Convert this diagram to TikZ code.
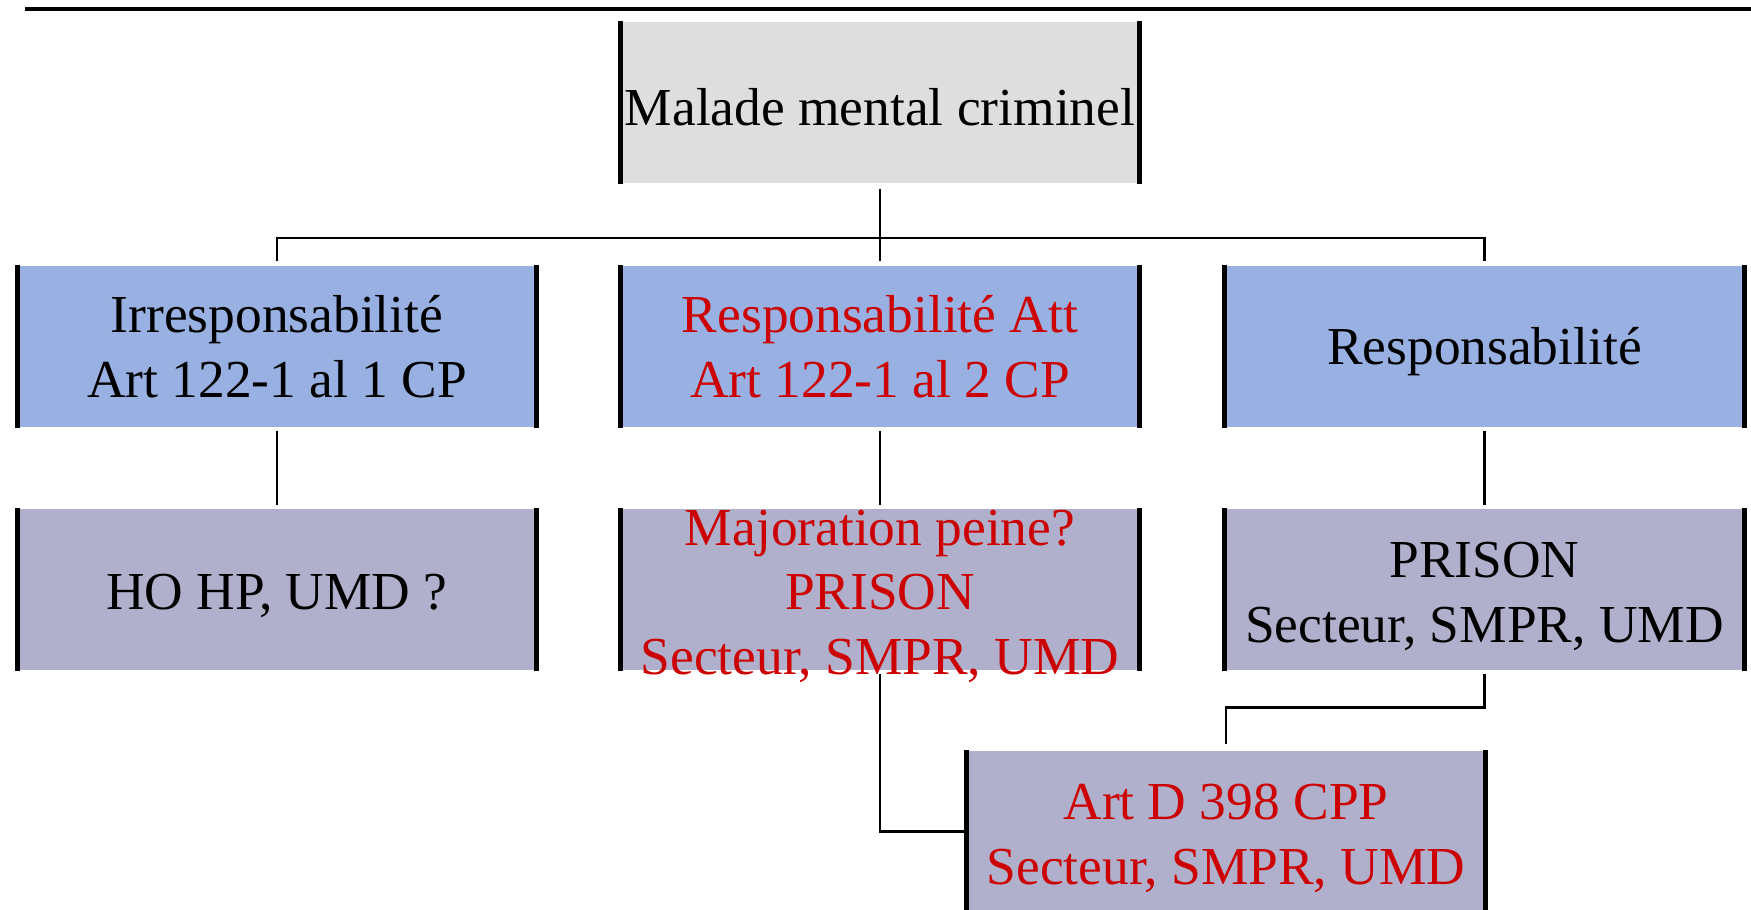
\documentclass[tikz,border=0pt]{standalone}
\usepackage{fontspec}
\setmainfont{Liberation Serif}

\definecolor{topgray}{HTML}{DEDEDE}
\definecolor{rowblue}{HTML}{98B0E2}
\definecolor{rowmauve}{HTML}{B0B0CC}
\definecolor{txtred}{HTML}{CC0000}
\newcommand{\upstrut}{\rule{0pt}{14pt}}

\begin{document}
\begin{tikzpicture}
    \useasboundingbox (0,0) rectangle (17.51,-9.10);
    \draw[line width=1pt] (0.25,-0.09) -- (17.51,-0.09);

        \begin{scope}[every node/.style={minimum width=5.18cm, minimum height=1.61cm, inner sep=0pt, align=center, font=\fontsize{15.2}{18.4}\selectfont, execute at begin node={\rule{0pt}{13.5pt}}}]
            \node[fill=topgray] (1) at (8.80,-1.025) {Malade mental criminel};
            \node[fill=rowblue] (2) at (2.77,-3.465) {Irresponsabilit\'e\\Art 122-1 al 1 CP};
            \node[fill=rowblue, text=txtred] (3) at (8.80,-3.465) {Responsabilit\'e Att\\Art 122-1 al 2 CP};
            \node[fill=rowblue] (4) at (14.845,-3.465) {Responsabilit\'e};
            \node[fill=rowmauve] (5) at (2.77,-5.895) {HO HP, UMD ?};
            \node[fill=rowmauve] (6) at (8.80,-5.895) {};
            \node[text=txtred] (6t) at (6.center) {\upstrut Majoration peine?\\PRISON\\Secteur, SMPR, UMD};
            \node[fill=rowmauve] (7) at (14.845,-5.895) {\upstrut PRISON\\Secteur, SMPR, UMD};
            \node[fill=rowmauve, text=txtred] (8) at (12.26,-8.315) {\upstrut Art D 398 CPP\\Secteur, SMPR, UMD};
        \end{scope}

        % black side bars
        \foreach \n in {1,...,8}
            \draw[line width=1.5pt] (\n.north west) -- (\n.south west) (\n.north east) -- (\n.south east);

        \begin{scope}[line width=0.7pt]
            \coordinate (f) at (8.80,-2.38);
            \draw[shorten <=0.05cm] (1) -- (f);
            \draw[shorten <=0.04cm, shorten >=0.04cm] (2.north) |- (f) -| (4.north);
            \draw[shorten >=0.04cm] (f) -- (3.north);
            \foreach \a/\b in {2/5,3/6,4/7}
                \draw[shorten <=0.03cm, shorten >=0.03cm] (\a) -- (\b);
            \draw[shorten <=0.03cm, shorten >=0.06cm] (7.south) -- ++(0,-0.37) -| (8.north);
            \draw[shorten <=0.03cm] (6.south) |- (8.west);
        \end{scope}

    \end{tikzpicture}
\end{document}
